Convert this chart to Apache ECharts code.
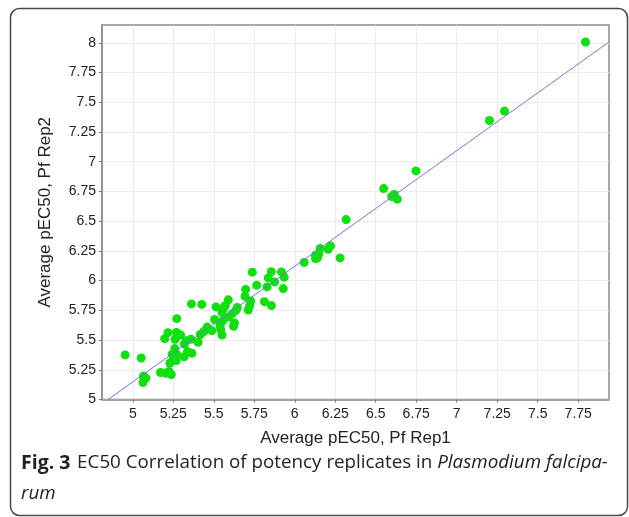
<!DOCTYPE html>
<html>
<head>
<meta charset="utf-8">
<script src="https://cdn.jsdelivr.net/npm/echarts@6/dist/echarts.min.js"></script>
<style>
  html, body { margin: 0; padding: 0; background: #fff; }
  #chart { width: 629px; height: 517px; }
</style>
</head>
<body>
<div id="chart"></div>
<script>
// Average pEC50 per compound, replicate 1 (x) and replicate 2 (y)
const pfRep1 = [
  4.953, 5.052, 5.066, 5.081, 5.063, 5.171, 5.203, 5.223, 5.238, 5.229,
  5.251, 5.268, 5.243, 5.270, 5.259, 5.317, 5.338, 5.365, 5.319, 5.331,
  5.359, 5.197, 5.261, 5.217, 5.270, 5.295, 5.272, 5.362, 5.403, 5.417,
  5.439, 5.426, 5.514, 5.561, 5.571, 5.590, 5.551, 5.614, 5.591, 5.505,
  5.555, 5.628, 5.622, 5.539, 5.459, 5.488, 5.543, 5.551, 5.645, 5.637,
  5.722, 5.713, 5.728, 5.693, 5.697, 5.738, 5.765, 5.829, 5.813, 5.856,
  5.836, 5.855, 5.876, 5.918, 5.935, 5.929, 6.058, 6.128, 6.148, 6.140,
  6.128, 6.157, 6.206, 6.221, 6.280, 6.317, 6.549, 6.598, 6.614, 6.633,
  6.748, 7.202, 7.295, 7.795
];
const pfRep2 = [
  5.375, 5.349, 5.198, 5.181, 5.143, 5.227, 5.221, 5.236, 5.210, 5.307,
  5.332, 5.328, 5.379, 5.381, 5.428, 5.360, 5.404, 5.389, 5.467, 5.495,
  5.507, 5.512, 5.507, 5.562, 5.564, 5.543, 5.680, 5.804, 5.482, 5.547,
  5.572, 5.800, 5.779, 5.768, 5.791, 5.838, 5.732, 5.722, 5.694, 5.673,
  5.661, 5.644, 5.616, 5.621, 5.609, 5.579, 5.589, 5.543, 5.774, 5.751,
  5.791, 5.753, 5.829, 5.867, 5.926, 6.071, 5.960, 5.947, 5.823, 5.790,
  6.023, 6.075, 5.989, 6.073, 6.029, 5.933, 6.153, 6.214, 6.225, 6.191,
  6.185, 6.271, 6.264, 6.292, 6.191, 6.513, 6.774, 6.707, 6.724, 6.685,
  6.923, 7.347, 7.426, 8.007
];

// fitted line end points
const fitX = [4.848, 7.94];
const fitY = [5.0, 8.007];

const xTicks = [5, 5.25, 5.5, 5.75, 6, 6.25, 6.5, 6.75, 7, 7.25, 7.5, 7.75];
const yTicks = [5, 5.25, 5.5, 5.75, 6, 6.25, 6.5, 6.75, 7, 7.25, 7.5, 7.75, 8];

const chart = echarts.init(document.getElementById('chart'));

const points = pfRep1.map((x, i) => [x, pfRep2[i]]);
const fitLine = fitX.map((x, i) => [x, fitY[i]]);

const labelFont = { color: '#222', fontSize: 14, fontFamily: 'Liberation Sans' };
const capFont = 'Open Sans';

chart.setOption({
  animation: false,
  grid: {
    left: 102, top: 25, right: 20, bottom: 117.5,
    show: true, borderColor: '#8c8c8c', borderWidth: 1.5, backgroundColor: '#fff'
  },
  xAxis: {
    type: 'value', min: 4.81, max: 7.94,
    name: 'Average pEC50, Pf Rep1', nameLocation: 'middle', nameGap: 30,
    nameTextStyle: { color: '#222', fontSize: 17, fontFamily: 'Liberation Sans' },
    axisLine: { lineStyle: { color: '#8c8c8c', width: 1.5 } },
    axisTick: { show: true, length: 3, lineStyle: { color: '#777' }, customValues: xTicks },
    axisLabel: Object.assign({ margin: 8, customValues: xTicks }, labelFont),
    splitLine: { show: true, lineStyle: { color: '#ececec' } }
  },
  yAxis: {
    type: 'value', min: 5, max: 8.15,
    name: 'Average pEC50, Pf Rep2', nameLocation: 'middle', nameGap: 48,
    nameTextStyle: { color: '#222', fontSize: 17, fontFamily: 'Liberation Sans' },
    axisLine: { show: true, lineStyle: { color: '#8c8c8c', width: 1.5 } },
    axisTick: { show: true, length: 3, lineStyle: { color: '#777' }, customValues: yTicks },
    axisLabel: Object.assign({ margin: 6, customValues: yTicks }, labelFont),
    splitLine: { show: true, lineStyle: { color: '#ececec' } }
  },
  series: [
    {
      type: 'scatter', data: points, symbolSize: 9,
      itemStyle: { color: '#0fe00f', opacity: 1 }, z: 2
    },
    {
      type: 'line', data: fitLine, symbol: 'none', silent: true,
      lineStyle: { color: '#7474e0', width: 1 }, z: 3
    }
  ],
  graphic: [
    {
      type: 'rect', silent: true,
      shape: { x: 10.5, y: 8.5, width: 617, height: 507, r: 9 },
      style: { fill: 'none', stroke: '#4a4a4a', lineWidth: 1.5 }
    },
    {
      type: 'text', left: 21, top: 453,
      style: {
        text: '{b|Fig. 3}  {n|EC50 Correlation of potency replicates in }{i|Plasmodium falcipa-}',
        rich: {
          b: { fontFamily: capFont, fontWeight: 'bold', fontSize: 19.5, fill: '#222' },
          n: { fontFamily: capFont, fontSize: 18.8, fill: '#222' },
          i: { fontFamily: capFont, fontStyle: 'italic', fontSize: 18.8, fill: '#222' }
        }
      }
    },
    {
      type: 'text', left: 21, top: 484,
      style: { text: 'rum', fontFamily: capFont, fontStyle: 'italic', fontSize: 18.8, fill: '#222' }
    }
  ]
});
</script>
</body>
</html>
